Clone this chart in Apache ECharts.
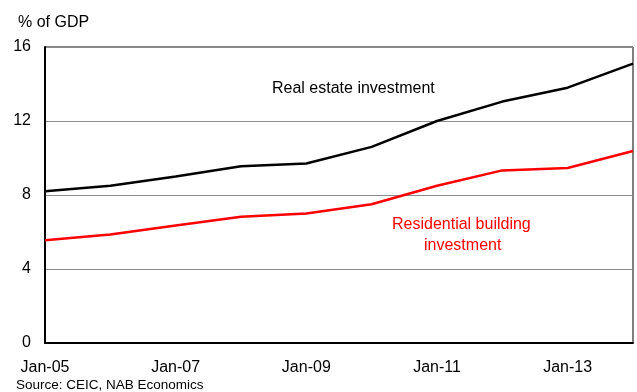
<!DOCTYPE html>
<html>
<head>
<meta charset="utf-8">
<script src="https://cdn.jsdelivr.net/npm/echarts@6/dist/echarts.min.js"></script>
<style>
  html, body { margin: 0; padding: 0; background: #fff; }
  #chart { width: 637px; height: 392px; }
</style>
</head>
<body>
<div id="chart"></div>
<script>
// Annual observations, January of each year
const years = ['Jan-05', 'Jan-06', 'Jan-07', 'Jan-08', 'Jan-09', 'Jan-10', 'Jan-11', 'Jan-12', 'Jan-13', 'Jan-14'];
// Share of GDP, per cent
const realEstate = [8.2, 8.5, 9.0, 9.55, 9.7, 10.6, 12.0, 13.05, 13.8, 15.1];
const residential = [5.55, 5.87, 6.35, 6.83, 7.0, 7.5, 8.5, 9.33, 9.46, 10.38];
const yTicks = [0, 4, 8, 12, 16];

const FONT = '"Liberation Sans", Arial, sans-serif';
const chart = echarts.init(document.getElementById('chart'), null, { renderer: 'canvas' });

chart.setOption({
  animation: false,
  backgroundColor: '#ffffff',
  textStyle: { fontFamily: FONT },
  grid: {
    left: 45, right: 4, top: 47, bottom: 49,
    show: true, borderColor: '#000', borderWidth: 1, backgroundColor: 'transparent'
  },
  xAxis: {
    type: 'category',
    data: years,
    boundaryGap: false,
    axisLine: { lineStyle: { color: '#000', width: 2 } },
    axisTick: { show: false },
    axisLabel: {
      // every second January, the last year left unlabelled
      interval: (i) => i % 2 === 0 && i < years.length - 1,
      hideOverlap: false,
      color: '#000', fontSize: 16, fontFamily: FONT, margin: 17
    },
    splitLine: { show: false }
  },
  yAxis: {
    type: 'value',
    min: yTicks[0], max: yTicks[yTicks.length - 1], interval: 4,
    name: '% of GDP',
    nameLocation: 'end',
    nameGap: 16,
    nameTextStyle: { color: '#000', fontSize: 16, fontFamily: FONT, align: 'left', padding: [0, 0, 0, -27] },
    axisLine: { show: true, lineStyle: { color: '#000', width: 2 } },
    axisTick: { show: false },
    axisLabel: { color: '#000', fontSize: 16, fontFamily: FONT, margin: 14 },
    splitLine: { show: true, lineStyle: { color: '#8c8c8c', width: 1 } }
  },
  series: [
    {
      name: 'Real estate investment',
      type: 'line',
      data: realEstate,
      symbol: 'none',
      lineStyle: { color: '#000', width: 2.5 },
      z: 3
    },
    {
      name: 'Residential building investment',
      type: 'line',
      data: residential,
      symbol: 'none',
      lineStyle: { color: '#ff0000', width: 2.5 },
      z: 3
    }
  ],
  graphic: [
    {
      type: 'text', left: 272, top: 81,
      style: { text: 'Real estate investment', fill: '#000', font: '16px ' + FONT }
    },
    {
      type: 'text', left: 392, top: 217,
      style: { text: 'Residential building', fill: '#ff0000', font: '16px ' + FONT }
    },
    {
      type: 'text', left: 424, top: 238,
      style: { text: 'investment', fill: '#ff0000', font: '16px ' + FONT }
    },
    {
      type: 'text', left: 16, top: 378,
      style: { text: 'Source: CEIC, NAB Economics', fill: '#000', font: '13.5px ' + FONT }
    }
  ]
});
</script>
</body>
</html>
